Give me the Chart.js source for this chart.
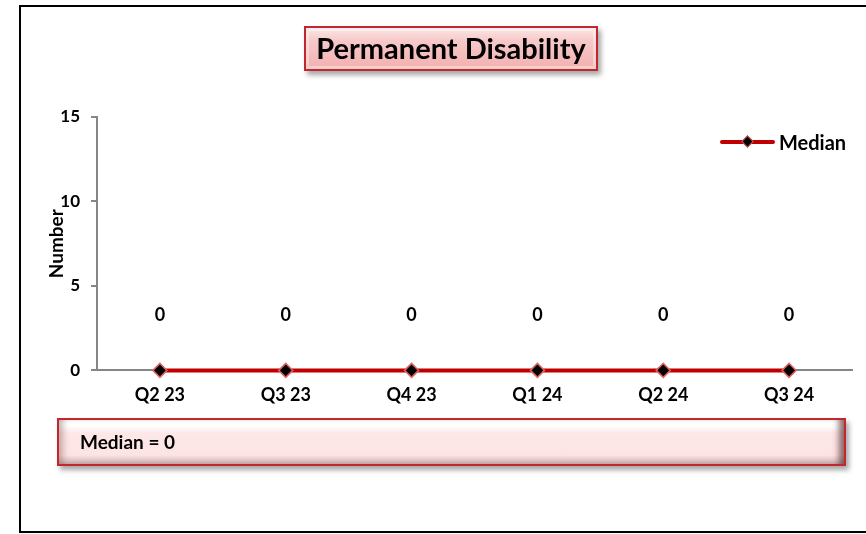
<!DOCTYPE html>
<html>
<head>
<meta charset="utf-8">
<script src="https://cdn.jsdelivr.net/npm/chart.js@4.4.1/dist/chart.umd.min.js"></script>
<style>
  html, body { margin: 0; padding: 0; background: #fff; }
  body { width: 866px; height: 534px; position: relative; overflow: hidden; font-family: Lato, "Open Sans", sans-serif; }
  #frame { position: absolute; left: 19px; top: 5px; width: 860px; height: 528px; border: 2px solid #000; box-sizing: border-box; border-right: none; }
  #wrap { position: absolute; left: 0; top: 0; width: 866px; height: 534px; }
  .box {
    position: absolute; box-sizing: border-box;
    border: 2px solid #c0282d;
    font-weight: bold; color: #000;
  }
  #title {
    left: 304px; top: 26px; width: 294px; height: 45px;
    background: linear-gradient(to bottom, #fce6e6 0%, #f7c9c9 30%, #f2b0b0 100%);
    box-shadow: inset 0 0 0 3px rgba(255,255,255,0.35), 3px 4px 5px rgba(0,0,0,0.35);
    font-size: 29px; text-align: center; line-height: 40px;
  }
  #note {
    left: 57px; top: 418px; width: 789px; height: 48px;
    background: linear-gradient(to bottom, #ffffff 0%, #fff 14%, #fde7e7 30%, #fde4e4 80%, #c9aeae 100%);
    box-shadow: inset 8px 0 6px -4px rgba(140,90,90,0.45), inset -9px 0 6px -4px rgba(90,50,50,0.7), 3px 4px 5px rgba(0,0,0,0.35);
    font-size: 19px; line-height: 44px; padding-left: 21px;
  }
  #legend { position: absolute; left: 720px; top: 131px; height: 22px; font-weight: bold; font-size: 20px; line-height: 22px; }
  #legend .ln { position: absolute; left: 0; top: 9px; width: 55px; height: 4px; background: #c00000; border-radius: 2px; }
  #legend .mk { position: absolute; left: 23px; top: 6px; width: 7px; height: 7px; background: #000; border: 1.5px solid #e06060; transform: rotate(45deg); }
  #legend .tx { position: absolute; left: 59px; top: 0; white-space: nowrap; }
</style>
</head>
<body>
<div id="frame"></div>
<div id="wrap"><canvas id="c" width="866" height="534"></canvas></div>
<div id="title" class="box">Permanent Disability</div>
<div id="legend"><span class="ln"></span><span class="mk"></span><span class="tx">Median</span></div>
<div id="note" class="box">Median = 0</div>
<script>
const categories = ["Q2 23", "Q3 23", "Q4 23", "Q1 24", "Q2 24", "Q3 24"];
const medianValues = [0, 0, 0, 0, 0, 0];
const yTicks = [0, 5, 10, 15];
const seriesName = "Median";

const labelPlugin = {
  id: 'pointLabels',
  afterDatasetsDraw(chart) {
    const ctx = chart.ctx;
    const meta = chart.getDatasetMeta(0);
    ctx.save();
    ctx.font = 'bold 18px Lato, "Open Sans", sans-serif';
    ctx.fillStyle = '#000';
    ctx.textAlign = 'center';
    ctx.textBaseline = 'middle';
    meta.data.forEach((pt, i) => {
      ctx.fillText(String(chart.data.datasets[0].data[i]), pt.x, pt.y - 55);
    });
    ctx.restore();
  }
};

new Chart(document.getElementById('c'), {
  type: 'line',
  data: {
    labels: categories,
    datasets: [{
      label: seriesName,
      data: medianValues,
      borderColor: '#c00000',
      borderWidth: 4,
      pointStyle: 'rectRot',
      pointRadius: 7,
      pointHoverRadius: 7,
      pointBackgroundColor: '#000',
      pointBorderColor: '#e06060',
      pointBorderWidth: 1.5,
      tension: 0,
      clip: false
    }]
  },
  options: {
    responsive: false,
    animation: false,
    events: [],
    layout: { padding: { left: 20, right: 14, top: 117, bottom: 114 } },
    plugins: { legend: { display: false }, title: { display: false }, tooltip: { enabled: false } },
    scales: {
      x: {
        offset: true,
        grid: { display: false, drawTicks: false },
        border: { color: '#868686', width: 2 },
        ticks: { color: '#000', font: { family: 'Lato', weight: 'bold', size: 18 }, padding: 14, maxRotation: 0 }
      },
      y: {
        min: 0, max: 15,
        afterFit(scale) { scale.width = 77; },
        afterBuildTicks(scale) { scale.ticks = yTicks.map(v => ({ value: v })); },
        grid: { drawOnChartArea: false, tickLength: 6, color: '#868686', lineWidth: 2 },
        border: { color: '#868686', width: 2 },
        ticks: { color: '#000', font: { family: 'Lato', weight: 'bold', size: 17 }, padding: 11 },
        title: { display: true, text: 'Number', color: '#000', font: { family: 'Lato', weight: 'bold', size: 19 }, padding: { top: 25, bottom: 0 } }
      }
    }
  },
  plugins: [labelPlugin]
});
</script>
</body>
</html>
